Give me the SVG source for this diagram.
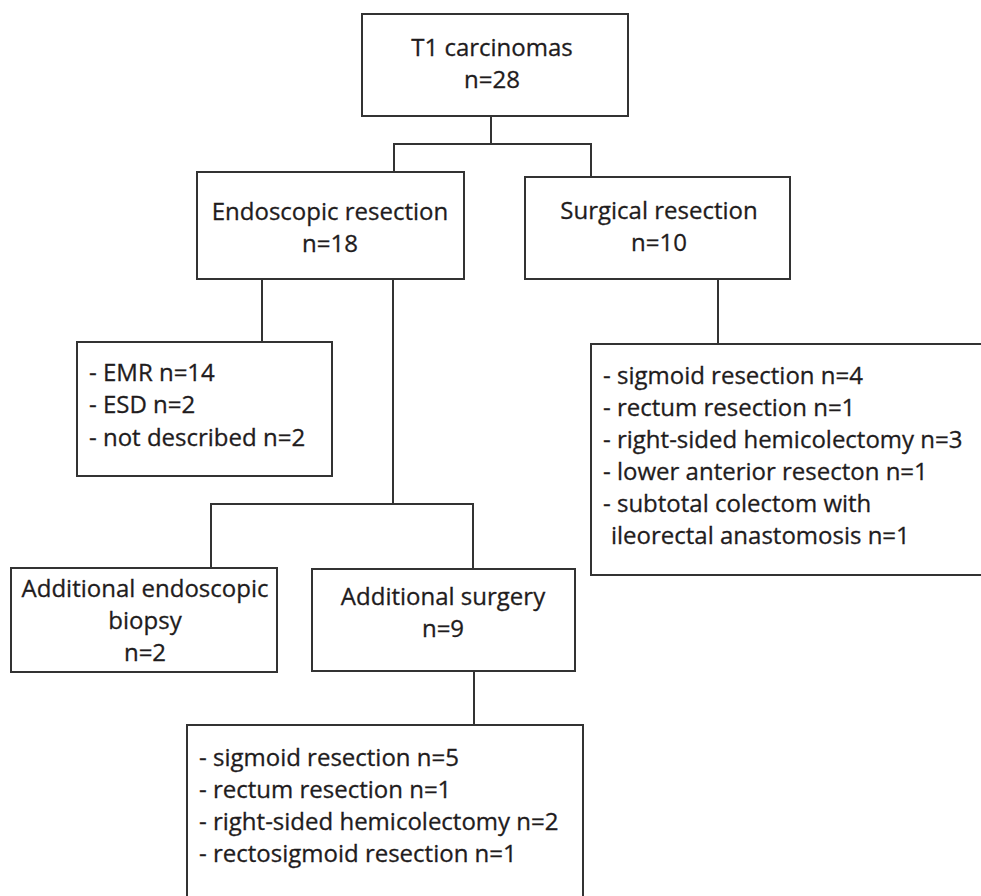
<svg xmlns="http://www.w3.org/2000/svg" width="981" height="896" viewBox="0 0 981 896">
  <style>
    .box { fill: #ffffff; stroke: #333333; stroke-width: 2; }
    .link { fill: none; stroke: #333333; stroke-width: 2; }
    text { font-family: "Open Sans", "Noto Sans", sans-serif; font-size: 24px; fill: #1f1c1d; stroke: #1f1c1d; stroke-width: 0.3; }
    .c { text-anchor: middle; }
  </style>
  <rect width="981" height="896" fill="#ffffff"/>

  <!-- elbow connectors between the boxes -->
  <g id="connectors">
    <polyline class="link" points="491,116 491,144"/>
    <polyline class="link" points="394,172 394,144 591,144 591,177"/>
    <polyline class="link" points="262,279 262,342"/>
    <polyline class="link" points="393,279 393,504"/>
    <polyline class="link" points="211,568 211,504 473,504 473,569"/>
    <polyline class="link" points="474,671 474,725"/>
    <polyline class="link" points="718,279 718,344"/>
  </g>

  <g id="t1">
    <rect class="box" x="362" y="14" width="266" height="102"/>
    <text class="c" x="492" y="56">T1 carcinomas</text>
    <text class="c" x="492" y="88">n=28</text>
  </g>

  <g id="endoscopic">
    <rect class="box" x="197" y="172" width="267" height="107"/>
    <text class="c" x="330" y="220">Endoscopic resection</text>
    <text class="c" x="330" y="252">n=18</text>
  </g>

  <g id="surgical">
    <rect class="box" x="525" y="177" width="265" height="102"/>
    <text class="c" x="659" y="219">Surgical resection</text>
    <text class="c" x="659" y="251">n=10</text>
  </g>

  <g id="endoscopic-methods">
    <rect class="box" x="77" y="342" width="255" height="134"/>
    <text x="89" y="381">- EMR n=14</text>
    <text x="89" y="413">- ESD n=2</text>
    <text x="89" y="446">- not described n=2</text>
  </g>

  <!-- list box runs off the right edge of the canvas -->
  <g id="surgical-methods">
    <rect class="box" x="591" y="344" width="394" height="231"/>
    <text x="603" y="384">- sigmoid resection n=4</text>
    <text x="603" y="416">- rectum resection n=1</text>
    <text x="603" y="448">- right-sided hemicolectomy n=3</text>
    <text x="603" y="480">- lower anterior resecton n=1</text>
    <text x="603" y="512">- subtotal colectom with</text>
    <text x="611" y="544">ileorectal anastomosis n=1</text>
  </g>

  <g id="additional-biopsy">
    <rect class="box" x="11" y="568" width="266" height="104"/>
    <text class="c" x="145" y="597">Additional endoscopic</text>
    <text class="c" x="145" y="629">biopsy</text>
    <text class="c" x="145" y="661">n=2</text>
  </g>

  <g id="additional-surgery">
    <rect class="box" x="312" y="569" width="263" height="102"/>
    <text class="c" x="443" y="605">Additional surgery</text>
    <text class="c" x="443" y="637">n=9</text>
  </g>

  <!-- list box runs off the bottom edge of the canvas -->
  <g id="additional-surgery-methods">
    <rect class="box" x="187" y="725" width="396" height="180"/>
    <text x="199" y="766">- sigmoid resection n=5</text>
    <text x="199" y="798">- rectum resection n=1</text>
    <text x="199" y="830">- right-sided hemicolectomy n=2</text>
    <text x="199" y="862">- rectosigmoid resection n=1</text>
  </g>
</svg>
